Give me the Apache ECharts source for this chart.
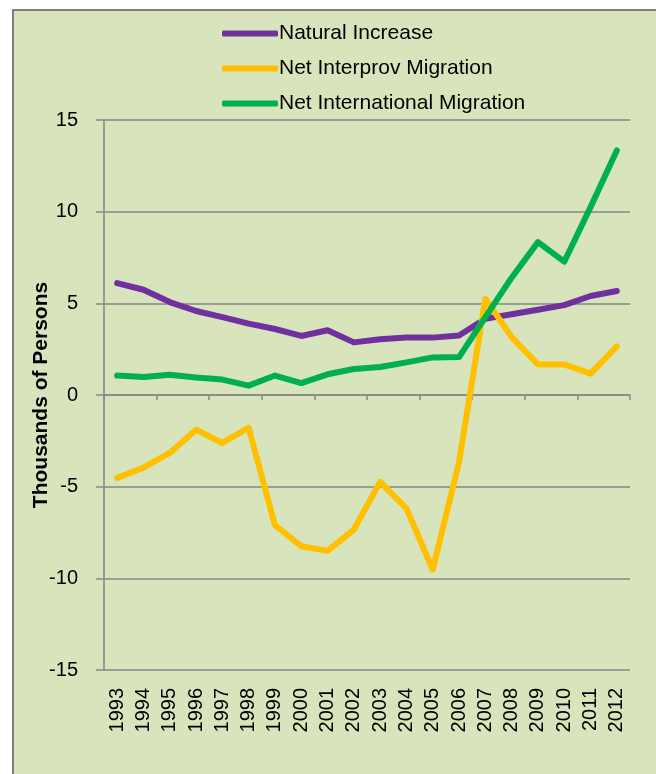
<!DOCTYPE html>
<html>
<head>
<meta charset="utf-8">
<script src="https://cdn.jsdelivr.net/npm/echarts@6/dist/echarts.min.js"></script>
<style>
  html, body { margin: 0; padding: 0; background: #fff; overflow: hidden; }
  #main { width: 656px; height: 774px; }
</style>
</head>
<body>
<div id="main"></div>
<script>
var years = ['1993','1994','1995','1996','1997','1998','1999','2000','2001','2002',
             '2003','2004','2005','2006','2007','2008','2009','2010','2011','2012'];
var naturalIncrease = [6.10, 5.74, 5.07, 4.58, 4.25, 3.89, 3.60, 3.22, 3.53, 2.87,
                       3.04, 3.14, 3.13, 3.25, 4.16, 4.40, 4.65, 4.90, 5.40, 5.67];
var netInterprov = [-4.52, -3.96, -3.16, -1.89, -2.62, -1.78, -7.10, -8.25, -8.50, -7.34,
                    -4.74, -6.19, -9.52, -3.65, 5.25, 3.16, 1.67, 1.67, 1.17, 2.65];
var netInternational = [1.06, 0.98, 1.11, 0.95, 0.84, 0.51, 1.06, 0.65, 1.13, 1.42,
                        1.53, 1.78, 2.05, 2.07, 4.25, 6.40, 8.34, 7.27, 10.25, 13.34];
var seriesNames = ['Natural Increase', 'Net Interprov Migration', 'Net International Migration'];
var yTicks = { min: -15, max: 15, interval: 5 };

function drawChart() {
    var myChart = echarts.init(document.getElementById('main'));
    var font = 'Liberation Sans, Arial, sans-serif';
    var gridColor = '#868686';

    function line(name, data, color) {
        return {
            name: name,
            type: 'line',
            data: data,
            symbol: 'none',
            xAxisIndex: 0,
            lineStyle: { color: color, width: 6, cap: 'round', join: 'round' },
            itemStyle: { color: color }
        };
    }

    var option = {
        backgroundColor: '#ffffff',
        animation: false,
        graphic: [{
            type: 'rect',
            z: -10,
            shape: { x: 13, y: 10, width: 700, height: 800 },
            style: { fill: '#D8E4BC', stroke: '#7F7F7F', lineWidth: 2 }
        }],
        legend: {
            orient: 'vertical',
            left: 217,
            top: 18,
            itemWidth: 56,
            itemHeight: 6,
            itemGap: 14,
            icon: 'roundRect',
            data: seriesNames,
            textStyle: { fontFamily: font, fontSize: 21, color: '#000', padding: [0, 0, 0, -4] }
        },
        grid: { left: 104, right: 26, top: 120, bottom: 104, containLabel: false },
        xAxis: [{
            type: 'category',
            data: years,
            boundaryGap: true,
            axisLine: { onZero: true, lineStyle: { color: gridColor, width: 1.5 } },
            axisTick: { show: true, length: 5, inside: false, lineStyle: { color: gridColor, width: 1.5 } },
            axisLabel: { show: false }
        }, {
            type: 'category',
            data: years,
            position: 'bottom',
            boundaryGap: true,
            axisLine: { show: false },
            axisTick: { show: false },
            axisLabel: {
                rotate: 90,
                margin: 18,
                interval: 0,
                fontFamily: font,
                fontSize: 20,
                color: '#000'
            }
        }],
        yAxis: {
            type: 'value',
            min: yTicks.min,
            max: yTicks.max,
            interval: yTicks.interval,
            name: 'Thousands of Persons',
            nameLocation: 'middle',
            nameGap: 52,
            nameMoveOverlap: false,
            nameTextStyle: { fontFamily: font, fontSize: 21, fontWeight: 'bold', color: '#000' },
            axisLine: { show: true, onZero: false, lineStyle: { color: gridColor, width: 1.5 } },
            axisTick: { show: true, length: 8, lineStyle: { color: gridColor, width: 1.5 } },
            splitLine: { show: true, lineStyle: { color: gridColor, width: 1.5 } },
            axisLabel: { margin: 26, fontFamily: font, fontSize: 20, color: '#000' }
        },
        series: [
            line(seriesNames[0], naturalIncrease, '#7030A0'),
            line(seriesNames[1], netInterprov, '#FFC000'),
            line(seriesNames[2], netInternational, '#00B050')
        ]
    };

    myChart.setOption(option);
}

drawChart();
</script>
</body>
</html>
